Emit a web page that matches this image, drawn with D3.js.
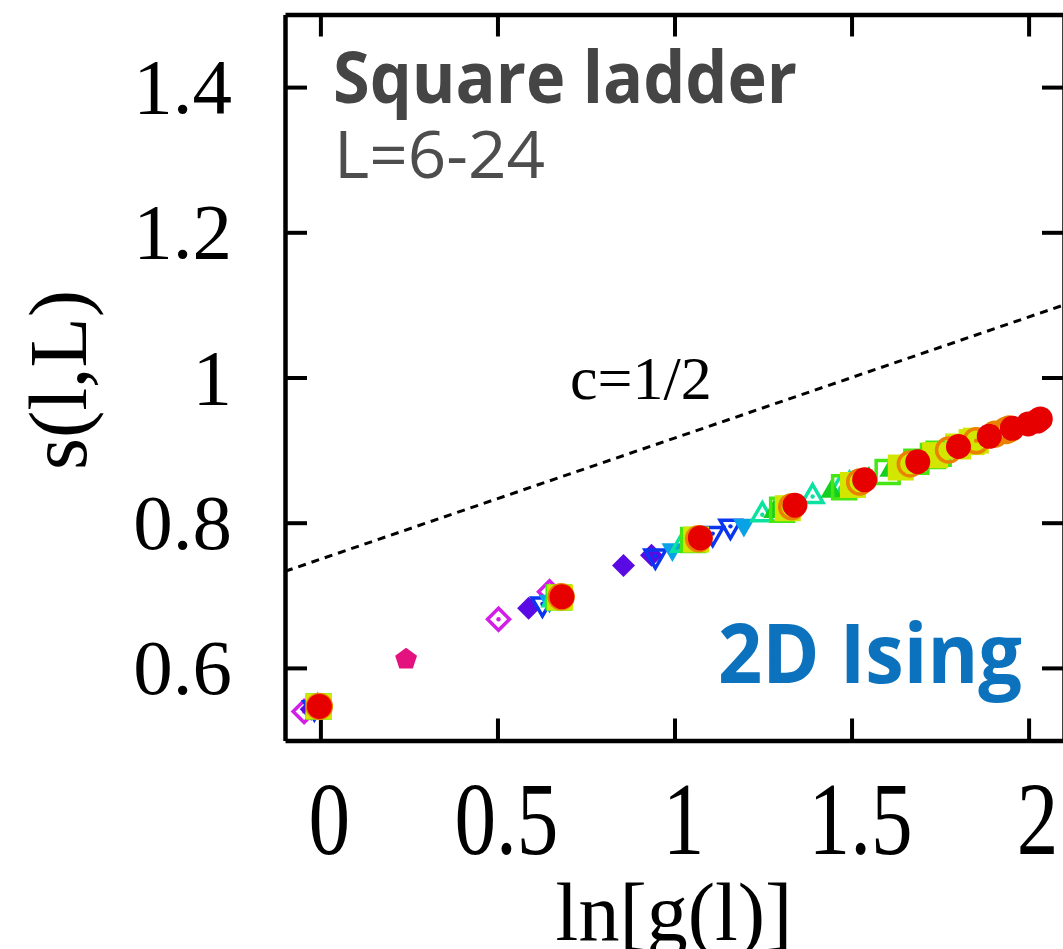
<!DOCTYPE html>
<html>
<head>
<meta charset="utf-8">
<script src="https://cdn.jsdelivr.net/npm/d3@7"></script>
<style>
  html, body { margin: 0; padding: 0; background: #fff; }
  svg { display: block; }
</style>
</head>
<body>
<svg id="chart" width="1063" height="949"></svg>
<script>
// Entanglement entropy s(l,L) of the square ladder vs ln of the chord length g(l)

// Axis ticks
const xTickValues = [0, 0.5, 1, 1.5, 2];
const xTickLabels = ["0", "0.5", "1", "1.5", "2"];
const yTickValues = [0.6, 0.8, 1.0, 1.2, 1.4];
const yTickLabels = ["0.6", "0.8", "1", "1.2", "1.4"];

// Reference line for c = 1/2
const refLineX = [-0.1, 2.1];
const refLineY = [0.733, 1.100];

// One array pair per system size L: ln[g(l)] and s(l,L)
const lnG_L4  = [0.242];
const s_L4    = [0.612];
const lnG_L6  = [-0.046, 0.503, 0.647];
const s_L6    = [0.540, 0.667, 0.705];
const lnG_L8  = [-0.026, 0.588, 0.856, 0.935];
const s_L8    = [0.543, 0.682, 0.741, 0.755];
const lnG_L10 = [-0.017, 0.627, 0.946, 1.108, 1.158];
const s_L10   = [0.545, 0.688, 0.754, 0.785, 0.795];
const lnG_L12 = [-0.011, 0.647, 0.994, 1.196, 1.306, 1.340];
const s_L12   = [0.546, 0.692, 0.763, 0.797, 0.818, 0.824];
const lnG_L14 = [-0.008, 0.659, 1.022, 1.248, 1.390, 1.469, 1.494];
const s_L14   = [0.546, 0.694, 0.769, 0.811, 0.836, 0.848, 0.853];
const lnG_L16 = [-0.006, 0.667, 1.040, 1.281, 1.443, 1.549, 1.609, 1.628];
const s_L16   = [0.547, 0.696, 0.773, 0.815, 0.843, 0.861, 0.872, 0.875];
const lnG_L18 = [-0.005, 0.673, 1.053, 1.304, 1.479, 1.602, 1.683, 1.730, 1.746];
const s_L18   = [0.547, 0.697, 0.776, 0.818, 0.849, 0.870, 0.884, 0.892, 0.895];
const lnG_L20 = [-0.004, 0.677, 1.061, 1.320, 1.504, 1.639, 1.736, 1.801, 1.839, 1.851];
const s_L20   = [0.547, 0.697, 0.777, 0.820, 0.852, 0.876, 0.893, 0.905, 0.911, 0.913];
const lnG_L22 = [-0.003, 0.680, 1.068, 1.331, 1.523, 1.666, 1.774, 1.852, 1.905, 1.936, 1.946];
const s_L22   = [0.547, 0.698, 0.778, 0.822, 0.856, 0.881, 0.900, 0.913, 0.922, 0.927, 0.929];
const lnG_L24 = [-0.003, 0.682, 1.073, 1.340, 1.537, 1.687, 1.802, 1.889, 1.954, 1.999, 2.025, 2.033];
const s_L24   = [0.547, 0.698, 0.779, 0.824, 0.859, 0.884, 0.905, 0.919, 0.930, 0.936, 0.940, 0.943];

const seriesX = [lnG_L4, lnG_L6, lnG_L8, lnG_L10, lnG_L12, lnG_L14, lnG_L16, lnG_L18, lnG_L20, lnG_L22, lnG_L24];
const seriesY = [s_L4, s_L6, s_L8, s_L10, s_L12, s_L14, s_L16, s_L18, s_L20, s_L22, s_L24];

// Marker style per series (same order as above)
const markerStyles = [
  { shape: "pentagon", r: 11.5, color: "#e3127e", open: false },
  { shape: "diamond",  r: 11,   color: "#d21ee6", open: true, dot: true },
  { shape: "diamond",  r: 11.5, color: "#5a0ae2", open: false },
  { shape: "triDown",  r: 12,   color: "#0a36f0", open: true, dot: true },
  { shape: "triDown",  r: 12.5, color: "#0aa2e6", open: false },
  { shape: "triUp",    r: 12,   color: "#0ae2a0", open: true, dot: true },
  { shape: "triUp",    r: 12.5, color: "#14d01e", open: false },
  { shape: "square",   r: 11.5, color: "#46e614", open: true },
  { shape: "square",   r: 13,   color: "#d2e600", open: false },
  { shape: "circle",   r: 12,   color: "#ea8200", open: true, dot: true },
  { shape: "circle",   r: 12.5, color: "#e60000", open: false }
];

// Symbol types; the size argument is the squared radius
function polygon(n, startDeg) {
  return {
    draw(ctx, size) {
      const r = Math.sqrt(size);
      for (let k = 0; k < n; k++) {
        const a = (startDeg + k * 360 / n) * Math.PI / 180;
        const px = r * Math.cos(a), py = r * Math.sin(a);
        if (k === 0) ctx.moveTo(px, py); else ctx.lineTo(px, py);
      }
      ctx.closePath();
    }
  };
}
const shapes = {
  circle: { draw(ctx, size) { const r = Math.sqrt(size); ctx.moveTo(r, 0); ctx.arc(0, 0, r, 0, 2 * Math.PI); } },
  square: { draw(ctx, size) { const r = Math.sqrt(size); ctx.rect(-r, -r, 2 * r, 2 * r); } },
  diamond: polygon(4, -90),
  triUp: polygon(3, -90),
  triDown: polygon(3, 90),
  pentagon: polygon(5, -90)
};

const svg = d3.select("#chart");
const margin = { left: 285, top: 14.5, right: 1064, bottom: 740.5 };

const x = d3.scaleLinear().domain([-0.1, 2.1]).range([margin.left, margin.right]);
const y = d3.scaleLinear().domain([0.5, 1.5]).range([margin.bottom, margin.top]);

svg.append("defs").append("clipPath").attr("id", "plotClip")
  .append("rect")
  .attr("x", margin.left).attr("y", margin.top)
  .attr("width", margin.right - margin.left).attr("height", margin.bottom - margin.top);

const tickLen = 22;
const axisColor = "#000";

// Axes with inward ticks on all four sides
const axB = svg.append("g").attr("transform", `translate(0,${margin.bottom})`)
  .call(d3.axisBottom(x).tickValues(xTickValues).tickSizeInner(-tickLen).tickSizeOuter(0).tickFormat(""));
const axT = svg.append("g").attr("transform", `translate(0,${margin.top})`)
  .call(d3.axisTop(x).tickValues(xTickValues).tickSizeInner(-tickLen).tickSizeOuter(0).tickFormat(""));
const axL = svg.append("g").attr("transform", `translate(${margin.left},0)`)
  .call(d3.axisLeft(y).tickValues(yTickValues).tickSizeInner(-tickLen).tickSizeOuter(0).tickFormat(""));
const axR = svg.append("g").attr("transform", `translate(${margin.right},0)`)
  .call(d3.axisRight(y).tickValues(yTickValues).tickSizeInner(-tickLen).tickSizeOuter(0).tickFormat(""));
[axB, axT, axL, axR].forEach(g => {
  g.select(".domain").attr("stroke", axisColor).attr("stroke-width", 4.5);
  g.selectAll(".tick line").attr("stroke", axisColor).attr("stroke-width", 4);
});

// Tick labels
const serif = "'Liberation Serif', 'Times New Roman', serif";
svg.append("g").selectAll("text").data(xTickValues).join("text")
  .attr("transform", d => `translate(${x(d) + 9},854) scale(0.8,1)`)
  .attr("text-anchor", "middle")
  .attr("font-family", serif).attr("font-size", 104)
  .text((d, i) => xTickLabels[i]);

svg.append("g").selectAll("text").data(yTickValues).join("text")
  .attr("x", 232).attr("y", d => y(d) + 26)
  .attr("text-anchor", "end")
  .attr("font-family", serif).attr("font-size", 79)
  .text((d, i) => yTickLabels[i]);

// Axis titles
svg.append("text")
  .attr("x", 674).attr("y", 940)
  .attr("text-anchor", "middle")
  .attr("font-family", serif).attr("font-size", 82)
  .text("ln[g(l)]");

svg.append("text")
  .attr("transform", "translate(86,380) rotate(-90)")
  .attr("text-anchor", "middle")
  .attr("font-family", serif).attr("font-size", 82)
  .text("s(l,L)");

const plot = svg.append("g").attr("clip-path", "url(#plotClip)");

// c = 1/2 reference line
plot.append("path")
  .datum(refLineX.map((v, i) => [v, refLineY[i]]))
  .attr("d", d3.line().x(d => x(d[0])).y(d => y(d[1])))
  .attr("fill", "none").attr("stroke", "#000").attr("stroke-width", 3)
  .attr("stroke-dasharray", "8,6");

svg.append("text")
  .attr("x", 570).attr("y", 399)
  .attr("font-family", serif).attr("font-size", 62)
  .text("c=1/2");

// Data markers, smaller L first so the largest size sits on top
seriesX.forEach((xs, si) => {
  const st = markerStyles[si];
  const sym = d3.symbol().type(shapes[st.shape]).size(st.r * st.r);
  const pts = xs.map((v, i) => [v, seriesY[si][i]]);
  const g = plot.append("g");
  g.selectAll("path").data(pts).join("path")
    .attr("transform", d => `translate(${x(d[0])},${y(d[1])})`)
    .attr("d", sym)
    .attr("fill", st.open ? "none" : st.color)
    .attr("stroke", st.open ? st.color : "none")
    .attr("stroke-width", st.open ? 3.5 : 0)
    .attr("stroke-linejoin", "miter");
  if (st.dot) {
    g.selectAll("circle").data(pts).join("circle")
      .attr("cx", d => x(d[0])).attr("cy", d => y(d[1]))
      .attr("r", 2.2).attr("fill", st.color);
  }
});

// Annotations
const sans = "'Open Sans', 'Noto Sans', sans-serif";
svg.append("text")
  .attr("x", 333).attr("y", 103)
  .attr("font-family", sans).attr("font-weight", 700).attr("font-size", 72)
  .attr("fill", "#454545")
  .attr("textLength", 464).attr("lengthAdjust", "spacingAndGlyphs")
  .text("Square ladder");

svg.append("text")
  .attr("x", 334).attr("y", 178)
  .attr("font-family", sans).attr("font-weight", 400).attr("font-size", 66)
  .attr("fill", "#4d4d4d")
  .attr("textLength", 211).attr("lengthAdjust", "spacingAndGlyphs")
  .text("L=6-24");

svg.append("text")
  .attr("x", 718).attr("y", 683)
  .attr("font-family", sans).attr("font-weight", 700).attr("font-size", 82)
  .attr("fill", "#0c72bd")
  .attr("textLength", 304).attr("lengthAdjust", "spacingAndGlyphs")
  .text("2D Ising");
</script>
</body>
</html>
